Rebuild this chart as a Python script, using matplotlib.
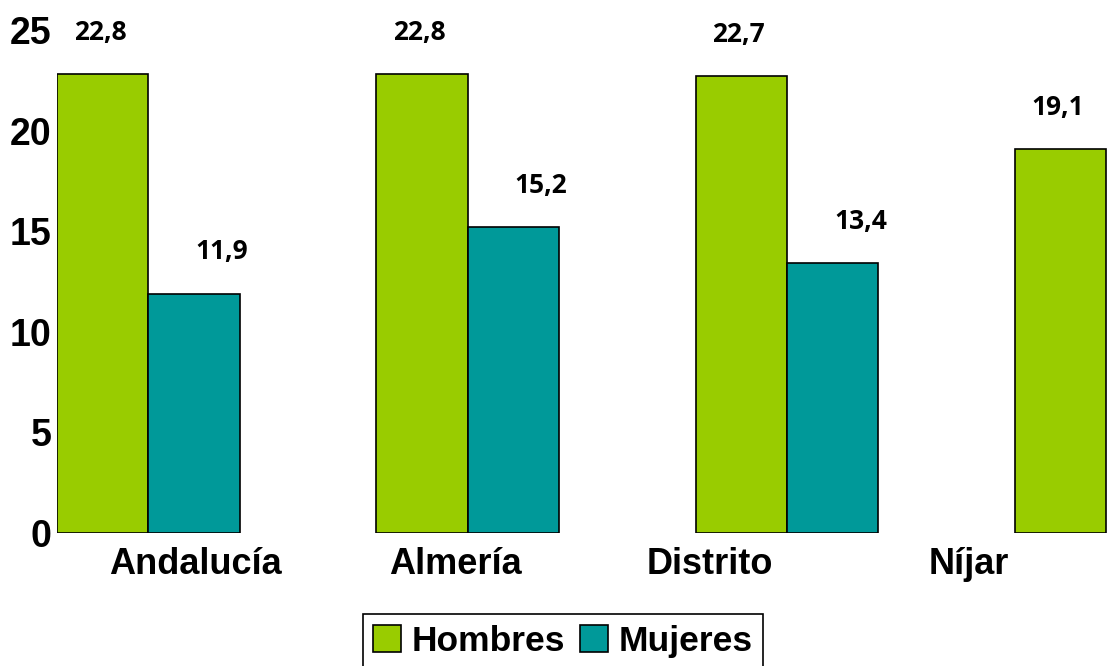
import numpy as np
import matplotlib.pyplot as plt

categories = ['Andalucía', 'Almería', 'Distrito', 'Níjar']
hombres = [22.8, 22.8, 22.7, 19.1]
mujeres = [11.9, 15.2, 13.4, np.nan]
hombres_txt = ['22,8', '22,8', '22,7', '19,1']
mujeres_txt = ['11,9', '15,2', '13,4', '']
yticks = [0, 5, 10, 15, 20, 25]

verde = '#99CC00'
turquesa = '#009999'
w = 0.286

fig = plt.figure(figsize=(11.13, 6.66), dpi=100)
ax = fig.add_axes([57 / 1113, 133 / 666, 1055.6 / 1113, 503 / 666])

x = np.arange(len(categories))
ax.bar(x - w / 2, hombres, w, color=verde, edgecolor='black', linewidth=1.2, label='Hombres')
ax.bar(x + w / 2, mujeres, w, color=turquesa, edgecolor='black', linewidth=1.2, label='Mujeres')

for i in range(len(categories)):
    ax.annotate(hombres_txt[i], (x[i] - w / 2, hombres[i]), xytext=(-2, 30),
                textcoords='offset points', ha='center', va='center',
                fontsize=19, fontweight='bold', family='Open Sans')
    if mujeres_txt[i]:
        ax.annotate(mujeres_txt[i], (x[i] + w / 2, mujeres[i]), xytext=(20, 30),
                    textcoords='offset points', ha='center', va='center',
                    fontsize=19, fontweight='bold', family='Open Sans')

ax.set_xlim(-w, 3.02)
ax.set_ylim(0, 25)
ax.set_yticks(yticks)
ax.set_yticklabels([str(t) for t in yticks], fontsize=27, fontweight='bold',
                   family='Liberation Sans')
# etiquetas de categoría desplazadas como en el original
label_pos = [0.147, 0.962, 1.76, 2.57]
ax.set_xticks(label_pos)
ax.set_xticklabels(categories, fontsize=26, fontweight='bold', family='Liberation Sans')
ax.tick_params(axis='both', length=0)
ax.tick_params(axis='y', pad=4)
ax.tick_params(axis='x', pad=10)
for s in ax.spines.values():
    s.set_visible(False)

leg = fig.legend(loc='upper center', bbox_to_anchor=(563 / 1113, 1 - 614 / 666), ncol=2,
                 prop={'family': 'Liberation Sans', 'weight': 'bold', 'size': 25.5},
                 frameon=True, fancybox=False, edgecolor='black', framealpha=1,
                 handlelength=0.8, handleheight=0.8, handletextpad=0.3,
                 columnspacing=0.4, borderpad=0.3, borderaxespad=0)
leg.get_frame().set_linewidth(1.2)

fig.savefig('out.png', dpi=100)
